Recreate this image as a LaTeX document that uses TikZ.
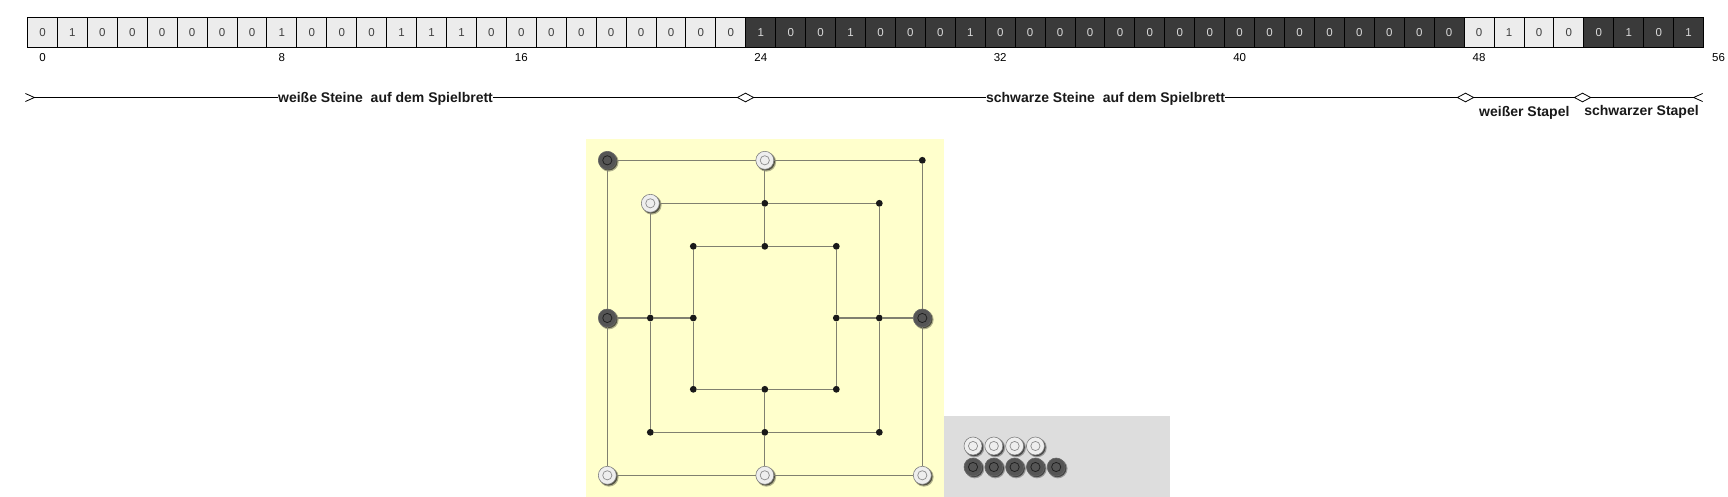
\documentclass[tikz,border=0pt]{standalone}
\usepackage{fontspec}
\setmainfont{Liberation Sans}
\usetikzlibrary{arrows.meta,shadows,positioning,shapes.geometric}

\begin{document}
\begin{tikzpicture} [x=1pt,y=-1pt]
    \tikzstyle{every node}=[font=\fontsize{11.5pt}{13pt}\selectfont]
    \tikzstyle{cell}=[rectangle,draw=black,line width=1pt,inner sep=0pt,minimum width=29.93pt,minimum height=30pt]
    \tikzstyle{cellw}=[cell,fill=cellwhite,text=black!75]
    \tikzstyle{cellb}=[cell,fill=cellblack,text=black!15]
    \tikzstyle{spanlabel}=[fill=white,inner sep=0pt,font=\fontsize{14pt}{16pt}\selectfont\bfseries,text=black!90]
    \tikzstyle{stacklabel}=[inner sep=0pt,font=\fontsize{14pt}{16pt}\selectfont\bfseries,text=black!90]
    \tikzstyle{split}=[diamond,draw=black,fill=white,line width=.8pt,inner sep=0pt,aspect=1.8,minimum width=16.5pt,minimum height=9pt]
    \tikzstyle{spot}=[circle,fill=black!90,inner sep=0pt,minimum size=6.8pt]
    \tikzstyle{stone}=[circle,inner sep=0pt,minimum size=18pt,line width=.6pt,
        drop shadow={shadow xshift=1.5pt,shadow yshift=-1.5pt,shadow scale=1.08,opacity=.3,fill=black},
        drop shadow={shadow xshift=1.2pt,shadow yshift=-1.2pt,opacity=.55,fill=black}]
    \tikzstyle{stonew}=[stone,draw=black!50,fill=stonewhite,
        path picture={\draw[black!45,line width=.7pt] (path picture bounding box.center) circle (4.6pt);}]
    \tikzstyle{stoneb}=[stone,draw=black!60,fill=stoneblack,
        path picture={\draw[black!88,line width=.75pt] (path picture bounding box.center) circle (4.6pt);}]
    \tikzstyle{boardline}=[draw=linegray,line width=1.1pt]
    \tikzstyle{span}=[draw=black,line width=1pt]
    \definecolor{cellwhite}{HTML}{ECECEC}
    \definecolor{cellblack}{HTML}{3A3A3A}
    \definecolor{stonewhite}{HTML}{EEEEEE}
    \definecolor{stoneblack}{HTML}{555555}
    \definecolor{linegray}{HTML}{80806F}
    \definecolor{boardyellow}{HTML}{FFFFCC}
    \definecolor{stackgray}{HTML}{DDDDDD}
    \useasboundingbox (0,0) rectangle (1728,497);

    % bit table
    \foreach \bit [count=\i from 0] in {0,1,0,0,0,0,0,0,1,0,0,0,1,1,1,0,0,0,0,0,0,0,0,0}
        \node[cellw] (cell\i) at ({42.46+29.93*\i},32.3) {\bit};
    \foreach \bit [count=\i from 24] in {1,0,0,1,0,0,0,1,0,0,0,0,0,0,0,0,0,0,0,0,0,0,0,0}
        \node[cellb] (cell\i) at ({42.46+29.93*\i},32.3) {\bit};
    \foreach \bit [count=\i from 48] in {0,1,0,0}
        \node[cellw] (cell\i) at ({42.46+29.93*\i},32.3) {\bit};
    \foreach \bit [count=\i from 52] in {0,1,0,1}
        \node[cellb] (cell\i) at ({42.46+29.93*\i},32.3) {\bit};
    \foreach \i in {0,8,...,56}
        \node (index\i) at ({42.46+29.93*\i},57.5) {\i};

    % spans below the table
    \coordinate (spanstart) at (25,97.5);
    \coordinate (spanend) at (1703,97.5);
    \node[split] (split24) at (745.5,97.5) {};
    \node[split] (split48) at (1465.5,97.5) {};
    \node[split] (split52) at (1582.5,97.5) {};
    \node[spanlabel] (whiteboard) at (385.5,98.8) {weiße Steine\ \ auf dem Spielbrett};
    \node[spanlabel] (blackboard) at (1105.5,98.8) {schwarze Steine\ \ auf dem Spielbrett};
    \node[stacklabel] (whitestack) at (1524.3,113) {weißer Stapel};
    \node[stacklabel] (blackstack) at (1641.5,112) {schwarzer Stapel};

    \path (spanstart)  edge[span,{Straight Barb[reversed,length=9pt,width=8pt,line width=.8pt]}-] (whiteboard.west |- spanstart);
    \path (whiteboard.east |- spanstart) edge[span] (split24);
    \path (split24)    edge[span] (blackboard.west |- split24);
    \path (blackboard.east |- split24) edge[span] (split48);
    \path (split48)    edge[span] (split52);
    \path (split52)    edge[span,-{Straight Barb[reversed,length=9pt,width=8pt,line width=.8pt]}] (spanend);

    % board and stack
    \fill[boardyellow] (586,139.5) rectangle (944.3,497);
    \fill[stackgray] (944.3,416) rectangle (1170,497);

    \node[stoneb] (otl) at (607.3,160.3) {};
    \node[stonew] (otm) at (764.8,160.3) {};
    \node[spot]   (otr) at (922.3,160.3) {};
    \node[stoneb] (oml) at (607.3,318) {};
    \node[stoneb] (omr) at (922.3,318) {};
    \node[stonew] (obl) at (607.3,475.3) {};
    \node[stonew] (obm) at (764.8,475.3) {};
    \node[stonew] (obr) at (922.3,475.3) {};

    \node[stonew] (mtl) at (650.3,203.3) {};
    \node[spot]   (mtm) at (764.8,203.3) {};
    \node[spot]   (mtr) at (879.3,203.3) {};
    \node[spot]   (mml) at (650.3,318) {};
    \node[spot]   (mmr) at (879.3,318) {};
    \node[spot]   (mbl) at (650.3,432.3) {};
    \node[spot]   (mbm) at (764.8,432.3) {};
    \node[spot]   (mbr) at (879.3,432.3) {};

    \node[spot]   (itl) at (693.3,246.3) {};
    \node[spot]   (itm) at (764.8,246.3) {};
    \node[spot]   (itr) at (836.3,246.3) {};
    \node[spot]   (iml) at (693.3,318) {};
    \node[spot]   (imr) at (836.3,318) {};
    \node[spot]   (ibl) at (693.3,389.3) {};
    \node[spot]   (ibm) at (764.8,389.3) {};
    \node[spot]   (ibr) at (836.3,389.3) {};

    \path (otl) edge[boardline] (otm);
    \path (otm) edge[boardline] (otr);
    \path (otr) edge[boardline] (omr);
    \path (omr) edge[boardline] (obr);
    \path (obr) edge[boardline] (obm);
    \path (obm) edge[boardline] (obl);
    \path (obl) edge[boardline] (oml);
    \path (oml) edge[boardline] (otl);

    \path (mtl) edge[boardline] (mtm);
    \path (mtm) edge[boardline] (mtr);
    \path (mtr) edge[boardline] (mmr);
    \path (mmr) edge[boardline] (mbr);
    \path (mbr) edge[boardline] (mbm);
    \path (mbm) edge[boardline] (mbl);
    \path (mbl) edge[boardline] (mml);
    \path (mml) edge[boardline] (mtl);

    \path (itl) edge[boardline] (itm);
    \path (itm) edge[boardline] (itr);
    \path (itr) edge[boardline] (imr);
    \path (imr) edge[boardline] (ibr);
    \path (ibr) edge[boardline] (ibm);
    \path (ibm) edge[boardline] (ibl);
    \path (ibl) edge[boardline] (iml);
    \path (iml) edge[boardline] (itl);

    \path (otm) edge[boardline] (mtm);
    \path (mtm) edge[boardline] (itm);
    \path (oml) edge[boardline] (mml);
    \path (mml) edge[boardline] (iml);
    \path (omr) edge[boardline] (mmr);
    \path (mmr) edge[boardline] (imr);
    \path (obm) edge[boardline] (mbm);
    \path (mbm) edge[boardline] (ibm);

    % stones off the board
    \foreach \i in {0,...,3}
        \node[stonew] (stackw\i) at ({973+20.8*\i},446) {};
    \foreach \i in {0,...,4}
        \node[stoneb] (stackb\i) at ({973+20.8*\i},467) {};
\end{tikzpicture}
\end{document}
